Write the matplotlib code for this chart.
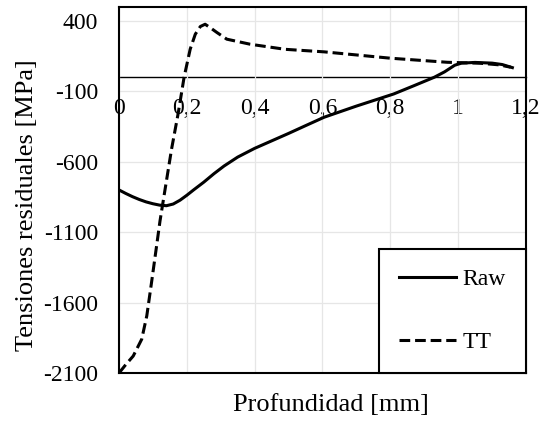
import matplotlib
matplotlib.use("Agg")
import matplotlib.pyplot as plt

plt.rcParams['font.family'] = ['Liberation Serif', 'DejaVu Serif']
plt.rcParams['font.size'] = 17
plt.rcParams['axes.unicode_minus'] = False

# residual stress profiles
raw_x = [0, 0.02, 0.04, 0.06, 0.08, 0.10, 0.12, 0.14, 0.16, 0.18, 0.20, 0.22,
         0.25, 0.28, 0.31, 0.35, 0.40, 0.45, 0.50, 0.55, 0.605, 0.70, 0.81,
         0.87, 0.93, 0.96, 0.99, 1.01, 1.05, 1.10, 1.13, 1.16]
raw_y = [-800, -825, -848, -868, -885, -898, -908, -912, -900, -873, -838, -800,
         -745, -685, -630, -567, -505, -452, -399, -344, -284, -205, -119,
         -60, 0, 38, 85, 100, 105, 100, 90, 68]

tt_x = [0, 0.02, 0.042, 0.067, 0.082, 0.096, 0.111, 0.121, 0.136, 0.155, 0.175,
        0.192, 0.21, 0.225, 0.24, 0.254, 0.27, 0.289, 0.318, 0.387, 0.49, 0.605,
        0.80, 0.968, 1.066, 1.12, 1.155]
tt_y = [-2100, -2040, -1979, -1860, -1694, -1457, -1196, -1020, -795, -511, -251,
        0, 199, 305, 360, 376, 350, 317, 270, 234, 198, 180,
        135, 106, 99, 88, 71]

x_ticks = [0, 0.2, 0.4, 0.6, 0.8, 1.0, 1.2]
x_labels = ['0', '0,2', '0,4', '0,6', '0,8', '1', '1,2']
y_ticks = [400, -100, -600, -1100, -1600, -2100]

fig = plt.figure(figsize=(5.47, 4.23), dpi=100)
ax = fig.add_axes([0.2175, 0.118, 0.744, 0.866])

ax.plot(raw_x, raw_y, color='black', linewidth=2.2, label='Raw')
ax.plot(tt_x, tt_y, color='black', linewidth=2.2, dashes=(3.5, 1.6), label='TT')

ax.set_xlim(0, 1.2)
ax.set_ylim(-2100, 500)
ax.set_xticks(x_ticks)
ax.set_xticklabels([])
ax.set_yticks(y_ticks)
ax.tick_params(axis='both', length=0)
ax.tick_params(axis='y', pad=15)
ax.grid(True, color='#e6e6e6', linewidth=0.9)
ax.set_axisbelow(True)

for sp in ax.spines.values():
    sp.set_linewidth(1.5)

# x axis crossing at zero stress
sec = ax.secondary_xaxis(0, transform=ax.transData)
sec.set_xticks(x_ticks)
sec.set_xticklabels(x_labels)
sec.tick_params(length=0, pad=15)
sec.spines['bottom'].set_linewidth(1.0)

ax.set_xlabel('Profundidad [mm]', fontsize=19)
ax.xaxis.set_label_coords(0.522, -0.058)
ax.xaxis.label.set_va('top')
ax.set_ylabel('Tensiones residuales [MPa]', fontsize=19)
ax.yaxis.set_label_coords(-0.199, 0.459)

leg = ax.legend(loc='lower right', borderaxespad=0, fancybox=False,
                framealpha=1, edgecolor='black', handlelength=2.4,
                handletextpad=0.3, labelspacing=1.75, borderpad=0.85)
leg.get_frame().set_linewidth(1.5)

plt.savefig('out.png', dpi=100)
